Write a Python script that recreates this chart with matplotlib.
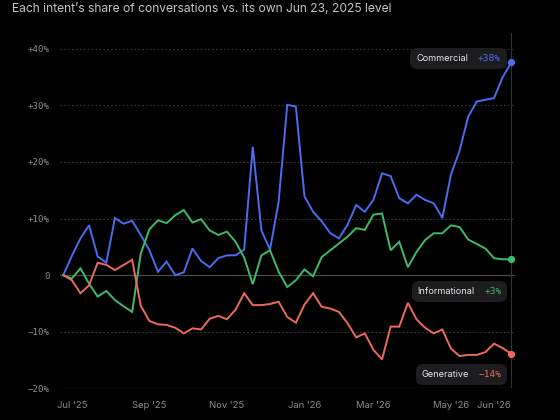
import pandas as pd
import matplotlib
matplotlib.use('Agg')
import matplotlib.pyplot as plt
from matplotlib.offsetbox import TextArea, HPacker, AnnotationBbox

# weekly points, starting at the Jun 23, 2025 baseline
dates = pd.date_range('2025-06-23', periods=53, freq='7D')

commercial = [0, 3.4, 6.5, 8.8, 3.3, 2.2, 10.1, 9.1, 9.6, 7.1,
              4.4, 0.6, 2.4, 0.0, 0.5, 4.7, 2.5, 1.4, 3.0, 3.5,
              3.5, 4.5, 22.7, 7.9, 4.5, 13.0, 30.1, 29.8, 13.9, 11.2,
              9.5, 7.4, 6.5, 8.9, 12.4, 11.2, 13.3, 18.0, 17.5, 13.6,
              12.7, 14.2, 13.3, 12.7, 10.1, 17.8, 22.0, 28.0, 30.7, 31.0,
              31.3, 35.0, 37.6]
informational = [0, -0.6, 1.2, -1.5, -3.8, -2.8, -4.4, -5.5, -6.5, 3.8,
                 8.1, 9.7, 9.2, 10.6, 11.5, 9.3, 9.9, 7.9, 7.1, 7.7,
                 5.9, 3.1, -1.6, 3.5, 4.4, 0.6, -2.1, -0.9, 1.0, -0.2,
                 3.2, 4.4, 5.6, 6.8, 8.3, 8.0, 10.7, 10.9, 4.4, 5.9,
                 1.4, 4.1, 6.2, 7.4, 7.4, 8.8, 8.5, 6.3, 5.5, 4.7,
                 3.0, 2.8, 2.8]
generative = [0, -0.9, -3.2, -1.8, 2.2, 1.8, 0.9, 1.8, 2.7, -5.4,
              -8.1, -8.7, -8.8, -9.3, -10.3, -9.4, -9.6, -7.7, -7.2, -7.8,
              -6.1, -3.2, -5.3, -5.3, -5.1, -4.7, -7.4, -8.4, -5.2, -3.2,
              -5.6, -5.9, -6.5, -8.5, -11.0, -10.3, -13.2, -14.9, -9.1, -9.1,
              -4.9, -7.8, -9.3, -10.3, -9.6, -13.0, -14.3, -14.1, -14.1, -13.6,
              -12.1, -12.9, -13.9]

series_names = ['Commercial', 'Informational', 'Generative']
series_values = [commercial, informational, generative]
series_labels = ['+38%', '+3%', '\u221214%']
colors = ['#4a6cf0', '#3dbb6b', '#ec6a5c']

tick_dates = ['2025-06-30', '2025-09-01', '2025-11-03', '2026-01-05',
              '2026-03-02', '2026-05-04', '2026-06-08']
tick_labels = ["Jul '25", "Sep '25", "Nov '25", "Jan '26",
               "Mar '26", "May '26", "Jun '26"]
y_ticks = [-20, -10, 0, 10, 20, 30, 40]
y_tick_labels = ['\u221220%', '\u221210%', '0', '+10%', '+20%', '+30%', '+40%']

# label box offsets (points) from each line's last point
label_offsets = [(-7.5, 3), (-7, -23), (-7, -15)]

BG = '#000000'
SANS = ['Inter', 'DejaVu Sans']
MONO = ['DejaVu Sans Mono']

fig = plt.figure(figsize=(5.6, 4.2), dpi=100, facecolor=BG)
ax = fig.add_axes([0.1063, 0.0755, 0.8133, 0.8459], facecolor=BG)

fig.text(0.021, 1 - 9 / 420, 'Each intent\u2019s share of conversations vs. its own Jun 23, 2025 level',
         color='#c4c4c4', fontsize=8.7, family=SANS, va='center', ha='left')

for y in y_ticks:
    if y == 0:
        ax.axhline(y, color='#4a4a4a', lw=0.9, zorder=1)
    elif y == -20:
        ax.axhline(y, color='#333333', lw=0.9, zorder=1)
    else:
        ax.axhline(y, color='#3a3a3a', lw=0.8, ls=(0, (1.5, 2)), zorder=1)

# hover crosshair at the last week
ax.axvline(dates[-1], color='#333333', lw=0.8, zorder=1)

for name, vals, col in zip(series_names, series_values, colors):
    ax.plot(dates, vals, color=col, lw=1.4, zorder=3, solid_joinstyle='miter')
    ax.plot(dates[-1], vals[-1], 'o', color=col, ms=4.2, zorder=4)

for name, vals, lab, col, off in zip(series_names, series_values, series_labels,
                                     colors, label_offsets):
    t1 = TextArea(name, textprops=dict(color='#e6e6e6', fontsize=6.6, family=SANS))
    t2 = TextArea(lab, textprops=dict(color=col, fontsize=6.8, family=MONO))
    box = HPacker(children=[t1, t2], sep=7, pad=0, align='baseline')
    ab = AnnotationBbox(box, (dates[-1], vals[-1]), xybox=off,
                        boxcoords='offset points', box_alignment=(1, 0.5),
                        frameon=True, pad=0.45,
                        bboxprops=dict(boxstyle='round,pad=0.42,rounding_size=0.5',
                                       fc='#1d1d1f', ec='none'), zorder=5)
    ax.add_artist(ab)

ax.set_xlim(dates[0] - pd.Timedelta(days=3), dates[-1] + pd.Timedelta(days=3))
ax.set_ylim(-20, 42.8)
ax.set_yticks(y_ticks)
ax.set_yticklabels(y_tick_labels, family=MONO, fontsize=6.6, color='#8c8c8c')
ax.set_xticks(pd.to_datetime(tick_dates))
ax.set_xticklabels(tick_labels, family=SANS, fontsize=6.8, color='#8c8c8c')
ax.tick_params(axis='y', length=0, pad=7)
ax.tick_params(axis='x', length=0, pad=9)
for s in ax.spines.values():
    s.set_visible(False)

fig.savefig('out.png', dpi=100, facecolor=BG)
